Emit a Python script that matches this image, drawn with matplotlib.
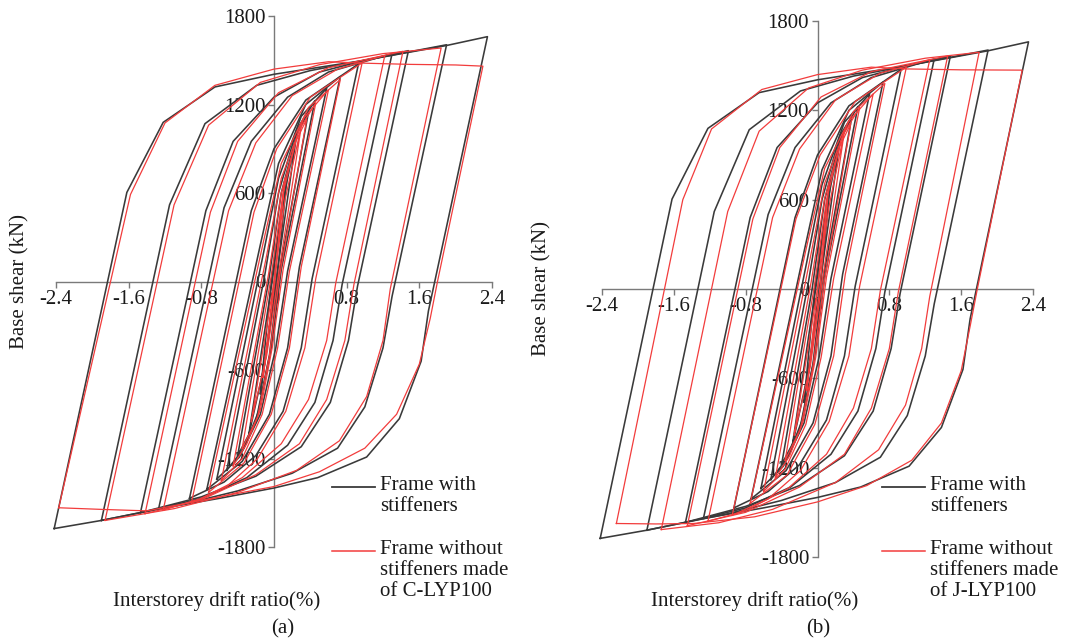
import matplotlib
matplotlib.use("Agg")
import matplotlib.pyplot as plt
from matplotlib.lines import Line2D

plt.rcParams['font.family'] = ['Liberation Serif', 'DejaVu Serif']
plt.rcParams['font.size'] = 15

# Hysteresis loops: each loop is a closed path of
# (interstorey drift ratio %, base shear kN) vertices.
# Frame with stiffeners (same curves in both panels)
stiff_loops = [
    [(-0.15, -760), (-0.03, 0), (0.15, 750), (0.03, 0), (-0.15, -760)],
    [(-0.28, -1050), (-0.02, 0), (0.1, 550), (0.25, 1000),
     (0.02, 0), (-0.1, -550), (-0.28, -1050)],
    [(-0.4, -1180), (-0.06, 0), (0.08, 600), (0.25, 1000), (0.38, 1150),
     (0.05, 30), (-0.05, -500), (-0.2, -950), (-0.4, -1180)],
    [(-0.52, -1280), (-0.1, 50), (0.05, 600), (0.25, 1030), (0.45, 1225),
     (0.08, 80), (-0.03, -450), (-0.17, -880), (-0.33, -1130), (-0.52, -1280)],
    [(-0.63, -1340), (-0.12, 180), (0.05, 700), (0.3, 1120), (0.58, 1310),
     (0.15, 70), (0.02, -450), (-0.15, -900), (-0.38, -1190), (-0.63, -1340)],
    [(-0.74, -1410), (-0.15, 250), (0.05, 800), (0.35, 1200), (0.73, 1390),
     (0.28, 100), (0.15, -450), (-0.05, -900), (-0.35, -1220), (-0.74, -1410)],
    [(-0.93, -1470), (-0.25, 480), (0.0, 900), (0.35, 1230), (0.93, 1475),
     (0.42, 20), (0.3, -450), (0.1, -880), (-0.2, -1180), (-0.55, -1360),
     (-0.93, -1470)],
    [(-1.27, -1540), (-0.55, 500), (-0.25, 950), (0.15, 1250), (0.6, 1420),
     (1.3, 1545), (0.75, -20), (0.65, -400), (0.45, -820), (0.15, -1110),
     (-0.3, -1330), (-0.8, -1470), (-1.27, -1540)],
    [(-1.47, -1567), (-0.75, 480), (-0.45, 950), (0.0, 1250), (0.5, 1420),
     (1.0, 1500), (1.48, 1565), (0.92, -30), (0.82, -400), (0.62, -820),
     (0.3, -1120), (-0.2, -1320), (-0.8, -1460), (-1.47, -1567)],
    [(-1.9, -1620), (-1.15, 520), (-0.76, 1070), (-0.19, 1330), (0.4, 1430),
     (1.0, 1500), (1.9, 1605), (1.3, -100), (1.2, -450), (1.0, -850),
     (0.7, -1130), (0.2, -1300), (-0.4, -1420), (-1.0, -1510), (-1.9, -1620)],
    [(-2.42, -1675), (-1.62, 604), (-1.22, 1079), (-0.65, 1319), (0.0, 1405),
     (1.0, 1500), (1.9, 1600), (2.35, 1660), (1.7, -200), (1.62, -540),
     (1.38, -930), (1.02, -1190), (0.48, -1330), (0.0, -1400), (-0.6, -1470),
     (-1.3, -1545), (-1.9, -1620), (-2.42, -1675)],
]

# Frame without stiffeners made of C-LYP100 (panel a)
c_lyp_loops = [
    [(-0.12, -650), (0.01, 0), (0.12, 700), (0.0, 0), (-0.12, -650)],
    [(-0.25, -950), (0.0, 0), (0.12, 550), (0.3, 1050),
     (0.05, 50), (-0.08, -500), (-0.25, -950)],
    [(-0.35, -1130), (-0.04, 0), (0.1, 600), (0.24, 950), (0.36, 1100),
     (0.06, 30), (-0.05, -500), (-0.18, -920), (-0.35, -1130)],
    [(-0.45, -1250), (-0.06, 50), (0.08, 600), (0.27, 1020), (0.46, 1211),
     (0.1, 80), (-0.02, -450), (-0.15, -870), (-0.3, -1100), (-0.45, -1250)],
    [(-0.58, -1350), (-0.08, 180), (0.08, 700), (0.33, 1110), (0.6, 1300),
     (0.17, 70), (0.04, -450), (-0.13, -900), (-0.35, -1200), (-0.58, -1350)],
    [(-0.72, -1430), (-0.12, 260), (0.08, 800), (0.38, 1180), (0.73, 1369),
     (0.3, 100), (0.17, -450), (-0.03, -900), (-0.33, -1230), (-0.72, -1430)],
    [(-0.91, -1503), (-0.22, 470), (0.03, 900), (0.4, 1250), (0.97, 1482),
     (0.46, 20), (0.34, -450), (0.13, -880), (-0.18, -1200), (-0.52, -1390),
     (-0.91, -1503)],
    [(-1.22, -1550), (-0.5, 480), (-0.2, 940), (0.2, 1260), (0.7, 1440),
     (1.22, 1532), (0.68, -10), (0.58, -400), (0.38, -800), (0.08, -1100),
     (-0.35, -1330), (-0.8, -1470), (-1.22, -1550)],
    [(-1.42, -1574), (-0.7, 470), (-0.4, 950), (0.05, 1280), (0.6, 1450),
     (1.42, 1561), (0.88, -20), (0.78, -400), (0.58, -800), (0.28, -1100),
     (-0.2, -1310), (-0.8, -1480), (-1.42, -1574)],
    [(-1.86, -1620), (-1.1, 520), (-0.72, 1060), (-0.15, 1350), (0.5, 1470),
     (1.2, 1545), (1.84, 1583), (1.28, -50), (1.2, -400), (1.02, -780),
     (0.72, -1080), (0.25, -1280), (-0.4, -1430), (-1.1, -1540), (-1.86, -1620)],
    [(-2.37, -1534), (-1.58, 590), (-1.2, 1075), (-0.65, 1330), (0.0, 1440),
     (0.6, 1490), (1.0, 1480), (1.5, 1472), (2.0, 1468), (2.3, 1460),
     (1.8, 0), (1.72, -250), (1.6, -560), (1.35, -900), (1.0, -1130),
     (0.5, -1290), (0.0, -1390), (-0.6, -1460), (-1.4, -1555), (-1.9, -1545),
     (-2.37, -1534)],
]

# Frame without stiffeners made of J-LYP100 (panel b)
j_lyp_loops = [
    [(-0.12, -680), (0.0, 0), (0.13, 720), (0.03, 20), (-0.12, -680)],
    [(-0.26, -980), (0.0, 0), (0.13, 560), (0.3, 1060),
     (0.05, 40), (-0.08, -520), (-0.26, -980)],
    [(-0.36, -1150), (-0.04, 0), (0.1, 600), (0.25, 960), (0.37, 1110),
     (0.07, 30), (-0.05, -520), (-0.19, -940), (-0.36, -1150)],
    [(-0.47, -1270), (-0.07, 50), (0.08, 610), (0.28, 1030), (0.47, 1220),
     (0.1, 80), (-0.02, -460), (-0.16, -890), (-0.31, -1120), (-0.47, -1270)],
    [(-0.6, -1360), (-0.09, 180), (0.08, 710), (0.34, 1120), (0.62, 1310),
     (0.18, 70), (0.04, -460), (-0.13, -910), (-0.36, -1210), (-0.6, -1360)],
    [(-0.75, -1440), (-0.13, 260), (0.08, 810), (0.4, 1190), (0.75, 1380),
     (0.31, 100), (0.18, -450), (-0.03, -910), (-0.34, -1250), (-0.75, -1440)],
    [(-0.95, -1520), (-0.24, 470), (0.03, 900), (0.42, 1260), (0.99, 1490),
     (0.47, 20), (0.35, -450), (0.13, -890), (-0.19, -1220), (-0.55, -1410),
     (-0.95, -1520)],
    [(-1.22, -1560), (-0.5, 480), (-0.2, 940), (0.2, 1270), (0.7, 1450),
     (1.25, 1540), (0.7, -10), (0.6, -400), (0.4, -800), (0.1, -1110),
     (-0.33, -1340), (-0.8, -1490), (-1.22, -1560)],
    [(-1.45, -1590), (-0.72, 470), (-0.42, 950), (0.04, 1290), (0.6, 1460),
     (1.45, 1565), (0.9, -20), (0.8, -400), (0.6, -800), (0.3, -1110),
     (-0.2, -1330), (-0.8, -1500), (-1.45, -1590)],
    [(-1.74, -1616), (-1.0, 520), (-0.65, 1060), (-0.1, 1350), (0.5, 1470),
     (1.2, 1550), (1.8, 1590), (1.25, -50), (1.16, -400), (0.98, -780),
     (0.68, -1080), (0.2, -1300), (-0.5, -1480), (-1.1, -1570), (-1.74, -1616)],
    [(-2.24, -1575), (-1.5, 600), (-1.18, 1075), (-0.62, 1340), (0.0, 1440),
     (0.6, 1490), (1.0, 1478), (1.6, 1472), (2.28, 1470), (1.78, 0),
     (1.7, -250), (1.6, -550), (1.38, -900), (1.05, -1150), (0.55, -1320),
     (0.0, -1430), (-0.7, -1530), (-1.38, -1575), (-1.8, -1578), (-2.24, -1575)],
]

x_ticks = [-2.4, -1.6, -0.8, 0, 0.8, 1.6, 2.4]
y_ticks = [-1800, -1200, -600, 0, 600, 1200, 1800]
x_tick_labels = ['-2.4', '-1.6', '-0.8', '0', '0.8', '1.6', '2.4']
y_tick_labels = ['-1800', '-1200', '-600', '0', '600', '1200', '1800']

BLACK = '#3a3a3a'
RED = '#f23c3c'
AXIS = '#7a7a7a'
TEXT = '#1a1a1a'

W, H = 1069, 644
fig = plt.figure(figsize=(W / 100, H / 100), dpi=100)


def px(x, y):
    return x / W, 1 - y / H


def panel(rect, red_loops, red_label, caption, ylab_x, xlab_xy, cap_xy, leg_x):
    ax = fig.add_axes(rect)
    for loop in stiff_loops:
        xs, ys = zip(*loop)
        ax.plot(xs, ys, color=BLACK, lw=1.15, clip_on=False, zorder=2)
    for loop in red_loops:
        xs, ys = zip(*loop)
        ax.plot(xs, ys, color=RED, lw=0.9, clip_on=False, zorder=3)
    ax.set_xlim(-2.4, 2.4)
    ax.set_ylim(-1800, 1800)
    for s in ['top', 'right']:
        ax.spines[s].set_visible(False)
    for s in ['left', 'bottom']:
        ax.spines[s].set_position(('data', 0))
        ax.spines[s].set_color(AXIS)
        ax.spines[s].set_linewidth(1.0)
        ax.spines[s].set_zorder(1)
    ax.set_xticks(x_ticks)
    ax.set_xticklabels(x_tick_labels)
    ax.set_yticks(y_ticks)
    ax.set_yticklabels(y_tick_labels)
    ax.tick_params(direction='out', length=4, width=1, color=AXIS,
                   labelsize=15, labelcolor=TEXT, pad=2)
    ax.patch.set_visible(False)

    cy = (1 - (rect[1] + rect[3] / 2)) * H
    fig.text(*px(ylab_x, cy), 'Base shear (kN)', rotation=90,
             ha='center', va='center', color=TEXT)
    fig.text(*px(*xlab_xy), 'Interstorey drift ratio(%)', ha='center',
             va='center', color=TEXT)
    fig.text(*px(*cap_xy), caption, ha='center', va='center', color=TEXT)

    # legend, drawn by hand to keep the handle on the first text line
    fig.add_artist(Line2D([leg_x / W, (leg_x + 43) / W],
                          [1 - 487 / H, 1 - 487 / H], color=BLACK, lw=1.3))
    fig.add_artist(Line2D([leg_x / W, (leg_x + 43) / W],
                          [1 - 551 / H, 1 - 551 / H], color=RED, lw=1.1))
    fig.text(*px(leg_x + 48, 476), 'Frame with\nstiffeners', ha='left',
             va='top', linespacing=1.15, color=TEXT)
    fig.text(*px(leg_x + 48, 540), red_label, ha='left', va='top',
             linespacing=1.15, color=TEXT)
    return ax


rect_a = [56 / W, (H - 547) / H, 436 / W, 531 / H]
rect_b = [602 / W, (H - 557) / H, 431 / W, 536 / H]

panel(rect_a, c_lyp_loops, 'Frame without\nstiffeners made\nof C-LYP100',
      '(a)', 20, (217, 601), (283, 629), 332)
panel(rect_b, j_lyp_loops, 'Frame without\nstiffeners made\nof J-LYP100',
      '(b)', 542, (755, 601), (818, 629), 882)

fig.savefig('out.png', dpi=100)
